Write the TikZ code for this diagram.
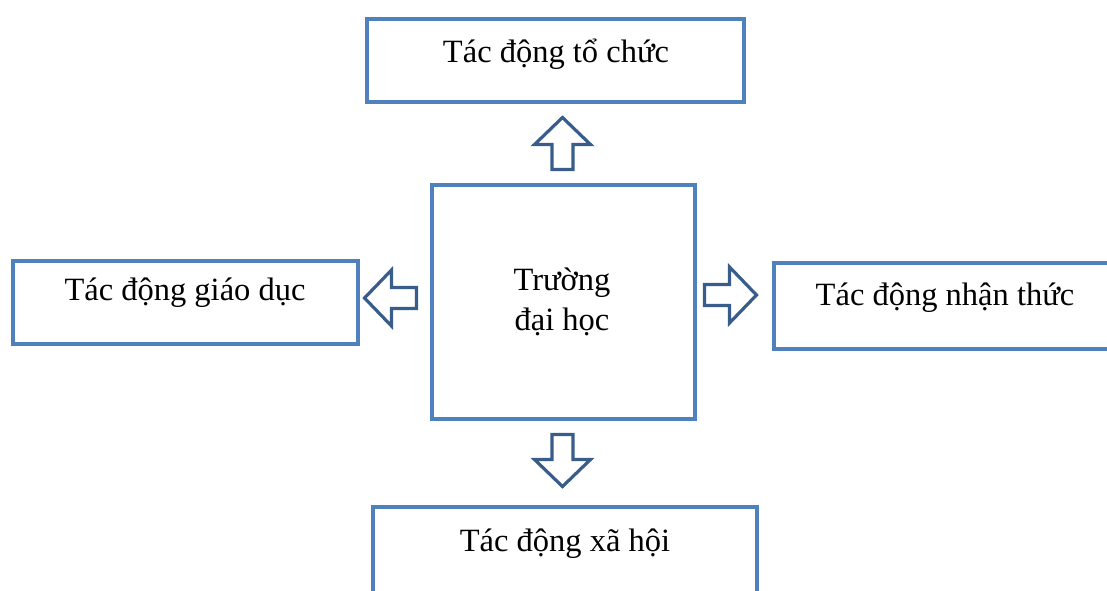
\documentclass[tikz,border=0pt]{standalone}
\usepackage{fontspec}
\setmainfont{Liberation Serif}
\usepackage{tikz}

\begin{document}
\begin{tikzpicture}[x=1pt, y=-1pt]
        % Define colors
        \definecolor{boxcolor}{RGB}{79, 129, 189}   % box outline
        \definecolor{arrowcolor}{RGB}{56, 93, 138}  % block arrows

        \tikzset{
            box/.style={draw=boxcolor, line width=4pt, rectangle, inner sep=0pt},
            lbl/.style={anchor=base, inner sep=0pt, font=\fontsize{32.5}{40}\selectfont},
            blockarrow/.pic={
                \draw[arrowcolor, line width=3.2pt, fill=white]
                    (0,-10.5) -- (25,-10.5) -- (25,-28) -- (52,0) -- (25,28)
                    -- (25,10.5) -- (0,10.5) -- cycle;
            }
        }

        \useasboundingbox (0,0) rectangle (1107,590);
        \clip (0,0) rectangle (1107,590);

        % Centre box
        \node[box, minimum width=263pt, minimum height=234pt] (truong) at (563.5,302) {};
        \node[lbl, align=center] (truongtxt) at (562,330) {Trường\\đại học};

        % Outer boxes
        \node[box, minimum width=377pt, minimum height=83pt] (tochuc) at (555.5,60.5) {};
        \node[lbl] (tochuctxt) at (556,62) {Tác động tổ chức};

        \node[box, minimum width=345pt, minimum height=83pt] (giaoduc) at (185.5,302.5) {};
        \node[lbl] (giaoductxt) at (185,300) {Tác động giáo dục};

        \node[box, minimum width=346pt, minimum height=86pt] (nhanthuc) at (947,306) {};
        \node[lbl] (nhanthuctxt) at (945,305) {Tác động nhận thức};

        \node[box, minimum width=384pt, minimum height=103pt] (xahoi) at (565,558.5) {};
        \node[lbl] (xahoitxt) at (565,551) {Tác động xã hội};

        % Block arrows out of the centre box
        \pic[rotate=90]  (uparr)    at (562.5,169.5) {blockarrow};
        \pic[rotate=-90] (downarr)  at (562.5,434.5) {blockarrow};
        \pic[rotate=180] (leftarr)  at (416.5,298)   {blockarrow};
        \pic             (rightarr) at (704.5,295)   {blockarrow};

    \end{tikzpicture}
\end{document}
